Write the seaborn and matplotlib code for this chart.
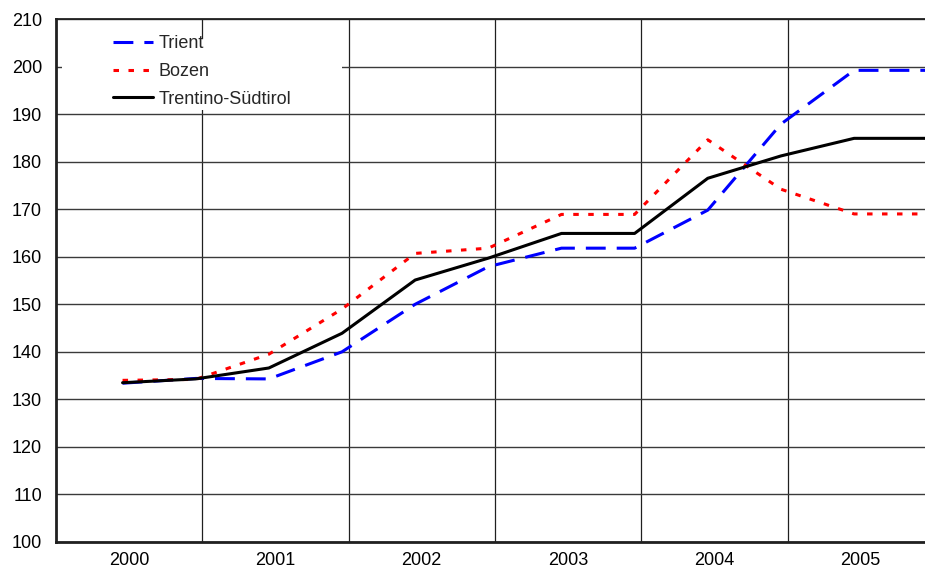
import numpy as np
import pandas as pd
import matplotlib
matplotlib.use("Agg")
import matplotlib.pyplot as plt
from matplotlib.patches import Rectangle
import seaborn as sns

# Half-year index values, 2000 to 2005 (two readings per year)
years = [2000, 2001, 2002, 2003, 2004, 2005]
halves = [0, 1]
trient = [133.4, 134.4, 134.3, 140.0, 150.0, 157.9, 161.8, 161.8, 169.8, 187.9, 199.2, 199.2]
bozen = [134.0, 134.2, 139.5, 149.0, 160.7, 161.8, 168.9, 168.9, 184.6, 174.2, 169.0, 169.0]
region = [133.5, 134.3, 136.6, 143.9, 155.1, 159.7, 164.9, 164.9, 176.5, 181.2, 184.9, 184.9]
series_names = ["Trient", "Bozen", "Trentino-Südtirol"]
y_ticks = list(range(100, 211, 10))

# position of each half-year reading inside its year slot
HALF_OFFSET = -0.045
pos = [y + h * 0.5 + HALF_OFFSET for y in years for h in halves]

df = pd.concat([
    pd.DataFrame({"x": pos, "wert": vals, "reihe": name})
    for name, vals in zip(series_names, [trient, bozen, region])
])

sns.set_theme(style="white")
plt.rcParams["font.family"] = ["Liberation Sans", "DejaVu Sans"]

fig = plt.figure(figsize=(9.25, 5.68), dpi=100)
ax = fig.add_axes([56 / 925, 26 / 568, 878 / 925, 523 / 568])

palette = {"Trient": "#0000ff", "Bozen": "#ff0000", "Trentino-Südtirol": "#000000"}
dashes = {"Trient": (6.5, 3.6), "Bozen": (1.8, 3.1), "Trentino-Südtirol": ""}

sns.lineplot(data=df, x="x", y="wert", hue="reihe", style="reihe",
             hue_order=series_names, style_order=series_names,
             palette=palette, dashes=dashes, linewidth=2.2, ax=ax,
             zorder=3, legend=True)

ax.set_xlim(1999.5, 1999.5 + 878 / 146.3)
ax.set_ylim(100, 210)
ax.set_yticks(y_ticks)
ax.set_xticks(years)
ax.set_xticklabels([str(y) for y in years])
ax.set_xticks([y + 0.5 for y in years[:-1]], minor=True)
ax.set_xlabel("")
ax.set_ylabel("")

ax.tick_params(axis="both", which="both", length=0, labelsize=13, colors="black")
ax.tick_params(axis="y", pad=10)
ax.tick_params(axis="x", pad=7)

ax.set_axisbelow(True)
ax.grid(False)
ax.yaxis.grid(True, color="#3a3a3a", linewidth=1.0)
ax.xaxis.grid(True, which="minor", color="#202020", linewidth=0.9)

ax.spines["right"].set_visible(False)
ax.spines["top"].set_color("#202020")
ax.spines["top"].set_linewidth(1.3)
ax.spines["left"].set_color("#202020")
ax.spines["left"].set_linewidth(2.0)
ax.spines["bottom"].set_color("#202020")
ax.spines["bottom"].set_linewidth(2.0)

# white area behind the legend
ax.add_patch(Rectangle((6 / 878, (542 - 110) / 523), 280 / 878, 72 / 523,
                       transform=ax.transAxes, facecolor="white",
                       edgecolor="none", zorder=1.5))

handles, labels = ax.get_legend_handles_labels()
leg = ax.legend(handles, labels, loc="upper left",
                bbox_to_anchor=((113 - 56) / 878, (542 - 35) / 523),
                frameon=False, fontsize=13, handlelength=2.2,
                handletextpad=0.3, labelspacing=0.6, borderpad=0,
                borderaxespad=0)
leg.set_zorder(4)

fig.savefig("out.png", dpi=100)
